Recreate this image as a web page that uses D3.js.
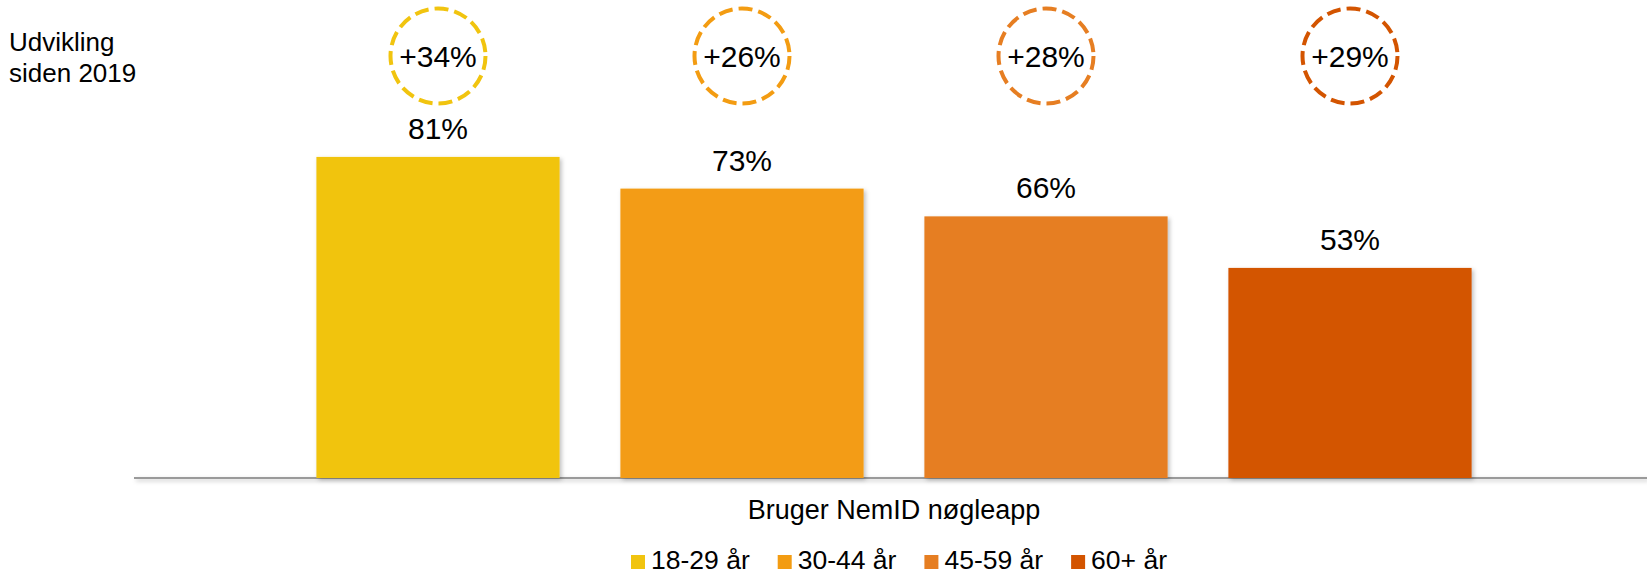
<!DOCTYPE html>
<html>
<head>
<meta charset="utf-8">
<script src="https://cdn.jsdelivr.net/npm/d3@7"></script>
<style>
  html, body { margin: 0; padding: 0; background: #fff; }
  svg { display: block; font-family: "Liberation Sans", Arial, sans-serif; }
</style>
</head>
<body>
<svg id="chart" width="1647" height="575"></svg>
<script>
// Andel der bruger NemID nøgleapp, fordelt på aldersgrupper
const category = "Bruger NemID nøgleapp";
const ageGroups = ["18-29 år", "30-44 år", "45-59 år", "60+ år"];
const shareValues = [81, 73, 66, 53];           // procent
const growthSince2019 = [34, 26, 28, 29];        // procentpoint siden 2019
const groupColors = ["#F1C40F", "#F39C12", "#E67E22", "#D35400"];
const sideNote = ["Udvikling", "siden 2019"];

const W = 1647, H = 575;
const svg = d3.select("#chart");

// Svag skygge under søjler og grundlinje
const defs = svg.append("defs");
const shadow = defs.append("filter").attr("id", "softShadow")
  .attr("filterUnits", "userSpaceOnUse")
  .attr("x", 0).attr("y", 0).attr("width", W).attr("height", H);
shadow.append("feDropShadow")
  .attr("dx", 2).attr("dy", 2).attr("stdDeviation", 2)
  .attr("flood-color", "#000").attr("flood-opacity", 0.25);

const baseY = 478;
const x = d3.scaleBand().domain(ageGroups).range([134, 1654])
  .paddingInner(0.2).paddingOuter(0.6);
const y = d3.scaleLinear().domain([0, 100]).range([baseY, baseY - 396.4]);
const color = d3.scaleOrdinal().domain(ageGroups).range(groupColors);

const rows = ageGroups.map((g, i) => ({ group: g, value: shareValues[i], growth: growthSince2019[i] }));

// Grundlinje
svg.append("line")
  .attr("x1", 134).attr("x2", W)
  .attr("y1", baseY).attr("y2", baseY)
  .attr("stroke", "#9a9a9a").attr("stroke-width", 2)
  .attr("filter", "url(#softShadow)");

// Søjler
svg.append("g").selectAll("rect").data(rows).join("rect")
  .attr("x", d => x(d.group))
  .attr("y", d => y(d.value))
  .attr("width", x.bandwidth())
  .attr("height", d => y(0) - y(d.value))
  .attr("fill", d => color(d.group))
  .attr("filter", "url(#softShadow)");

// Værdietiketter
svg.append("g").selectAll("text").data(rows).join("text")
  .attr("x", d => x(d.group) + x.bandwidth() / 2)
  .attr("y", d => y(d.value) - 18)
  .attr("text-anchor", "middle")
  .attr("font-size", 30)
  .attr("fill", "#000")
  .text(d => d.value + "%");

// Udvikling siden 2019 i stiplede cirkler
const circ = svg.append("g").selectAll("g").data(rows).join("g")
  .attr("transform", d => `translate(${x(d.group) + x.bandwidth() / 2},56)`);
circ.append("circle")
  .attr("r", 47.5)
  .attr("fill", "none")
  .attr("stroke", d => color(d.group))
  .attr("stroke-width", 4)
  .attr("stroke-dasharray", "14 6");
circ.append("text")
  .attr("y", 11)
  .attr("text-anchor", "middle")
  .attr("font-size", 30)
  .attr("fill", "#000")
  .text(d => "+" + d.growth + "%");

// Sidenote
svg.append("text")
  .attr("x", 9).attr("y", 50.5)
  .attr("font-size", 26).attr("fill", "#000")
  .selectAll("tspan").data(sideNote).join("tspan")
  .attr("x", 9)
  .attr("dy", (d, i) => i === 0 ? 0 : 31)
  .text(d => d);

// Kategorietiket
const cx = (134 + 1654) / 2;
svg.append("text")
  .attr("x", cx).attr("y", 519)
  .attr("text-anchor", "middle")
  .attr("font-size", 27).attr("fill", "#000")
  .text(category);

// Forklaring
const legend = svg.append("g");
const sq = 14, gapText = 6, gapItem = 28;
const items = legend.selectAll("g").data(ageGroups).join("g");
items.append("rect")
  .attr("width", sq).attr("height", sq)
  .attr("y", 555)
  .attr("fill", d => color(d));
items.append("text")
  .attr("x", sq + gapText).attr("y", 569)
  .attr("font-size", 26.5).attr("fill", "#000")
  .text(d => d);
const widths = [];
items.each(function () {
  widths.push(d3.select(this).select("text").node().getComputedTextLength());
});
const total = widths.reduce((a, w) => a + sq + gapText + w, 0) + gapItem * (widths.length - 1);
let start = cx + 5 - total / 2;
items.attr("transform", (d, i) => {
  const t = `translate(${start},0)`;
  start += sq + gapText + widths[i] + gapItem;
  return t;
});
</script>
</body>
</html>
